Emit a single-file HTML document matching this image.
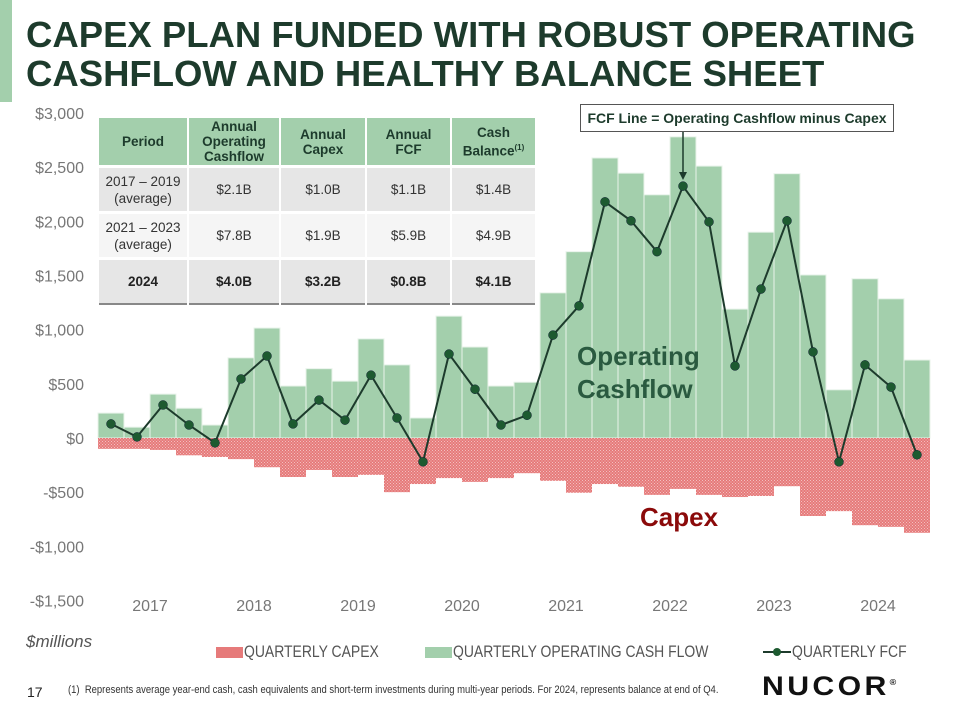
<!DOCTYPE html>
<html><head><meta charset="utf-8">
<style>
body{margin:0;width:960px;height:720px;background:#fff;font-family:"Liberation Sans",sans-serif;overflow:hidden;position:relative}
.title{position:absolute;left:26px;top:15px;font-size:36.5px;font-weight:bold;color:#1d3b2c;line-height:39px}
.accent{position:absolute;left:0;top:0;width:12px;height:102px;background:#a3cfac}
table{position:absolute;left:97px;top:118px;border-collapse:separate;border-spacing:2px 3px;font-size:13.5px;color:#333;margin-top:-3px}
th{background:#a3cfac;color:#1d3b2c;font-weight:bold;height:47px;line-height:15px;padding:0}
td{text-align:center;padding:0;height:43px;line-height:17px}
tr.r1 td,tr.r3 td{background:#e6e6e6}
tr.r2 td{background:#f5f5f5}
tr.r3 td{font-weight:bold;color:#222;border-bottom:2px solid #888}
svg{position:absolute;left:0;top:0}
.lg{position:absolute;top:642px;font-size:17px;color:#555;white-space:nowrap;transform:scaleX(0.82);transform-origin:left}
.sw{position:absolute;top:647px;width:27px;height:11px}
</style></head><body>
<div class="accent"></div>
<div class="title">CAPEX PLAN FUNDED WITH ROBUST OPERATING<br>CASHFLOW AND HEALTHY BALANCE SHEET</div>
<svg id="chart" width="960" height="720">
<defs><pattern id="hatch" width="3" height="3" patternUnits="userSpaceOnUse"><rect width="3" height="3" fill="#e67a7a"/><rect width="1" height="1" fill="#f3c0c0"/><rect x="1.5" y="1.5" width="1" height="1" fill="#f3c0c0"/></pattern></defs>
<g id="bars"></g><g id="line"></g><g id="axes"></g>
</svg>
<table>
<tr><th style="width:88px">Period</th><th style="width:90px">Annual<br>Operating<br>Cashflow</th><th style="width:84px">Annual<br>Capex</th><th style="width:83px">Annual<br>FCF</th><th style="width:83px">Cash<br>Balance<sup style="font-size:8px">(1)</sup></th></tr>
<tr class="r1"><td>2017 – 2019<br>(average)</td><td>$2.1B</td><td>$1.0B</td><td>$1.1B</td><td>$1.4B</td></tr>
<tr class="r2"><td>2021 – 2023<br>(average)</td><td>$7.8B</td><td>$1.9B</td><td>$5.9B</td><td>$4.9B</td></tr>
<tr class="r3"><td>2024</td><td>$4.0B</td><td>$3.2B</td><td>$0.8B</td><td>$4.1B</td></tr>
</table>
<div style="position:absolute;left:580px;top:104px;width:312px;height:26px;border:1px solid #555;background:#fff;font-size:14px;font-weight:bold;color:#1d3b2c;text-align:center;line-height:26px">FCF Line = Operating Cashflow minus Capex</div>
<div style="position:absolute;left:577px;top:340px;font-size:26px;font-weight:bold;color:#2a5a40;line-height:33px">Operating<br>Cashflow</div>
<div style="position:absolute;left:640px;top:502px;font-size:26px;font-weight:bold;color:#8b0a0a">Capex</div>
<div style="position:absolute;left:26px;top:632px;font-size:17px;font-style:italic;color:#555">$millions</div>
<div class="sw" style="left:216px;background:#e67a7a"></div>
<div class="lg" style="left:244px">QUARTERLY CAPEX</div>
<div class="sw" style="left:425px;background:#a3cfac"></div>
<div class="lg" style="left:453px">QUARTERLY OPERATING CASH FLOW</div>
<svg width="28" height="12" style="left:763px;top:646px"><line x1="0" y1="6" x2="28" y2="6" stroke="#1d3b2c" stroke-width="2"/><circle cx="14" cy="6" r="4" fill="#1d5a30"/></svg>
<div class="lg" style="left:792px">QUARTERLY FCF</div>
<div style="position:absolute;left:27px;top:684px;font-size:14px;color:#222">17</div>
<div style="position:absolute;left:68px;top:684px;font-size:11px;color:#333;white-space:nowrap;transform:scaleX(0.86);transform-origin:left">(1)&nbsp; Represents average year-end cash, cash equivalents and short-term investments during multi-year periods. For 2024, represents balance at end of Q4.</div>
<div style="position:absolute;left:762px;top:671px;font-size:27px;font-weight:900;color:#111;letter-spacing:3px;white-space:nowrap;transform:scaleX(1.12);transform-origin:left">NUCOR<sup style="font-size:8px;letter-spacing:0">®</sup></div>
<script>
const years=["2017","2018","2019","2020","2021","2022","2023","2024"];
const ocf=[230,100,405,275,120,740,1015,480,640,525,915,675,185,1125,840,480,515,1340,1720,2585,2445,2245,2780,2510,1190,1900,2440,1505,445,1470,1285,720];
const capex=[-100,-100,-110,-160,-175,-195,-270,-360,-295,-360,-340,-500,-425,-370,-405,-370,-325,-395,-505,-425,-450,-525,-470,-525,-545,-535,-445,-720,-675,-805,-820,-875];
const fcf=[130,10,305,120,-45,545,757,130,350,165,580,185,-220,775,450,120,210,950,1220,2180,2005,1720,2325,1995,665,1375,2005,795,-220,675,470,-155];
const yTicks=[3000,2500,2000,1500,1000,500,0,-500,-1000,-1500];
const NS="http://www.w3.org/2000/svg";
const x0=98,bw=26,yZero=438,k=325/3000;
const X=i=>x0+i*bw, Y=v=>yZero-v*k;
function mk(tag,at,parent){const e=document.createElementNS(NS,tag);for(const a in at)e.setAttribute(a,at[a]);parent.appendChild(e);return e;}
const gb=document.getElementById('bars'),gl=document.getElementById('line'),ga=document.getElementById('axes');
ocf.forEach((v,i)=>{const r=mk('rect',{x:X(i),y:Math.min(Y(v),yZero),width:bw,height:Math.abs(Y(v)-yZero),fill:'#a3cfac',stroke:'#e8f3ea','stroke-width':1},gb);

});
capex.forEach((v,i)=>{const r=mk('rect',{x:X(i),y:yZero,width:bw,height:Math.abs(Y(v)-yZero),fill:'url(#hatch)'},gb);

});
const pts=fcf.map((v,i)=>(X(i)+bw/2)+','+Y(v)).join(' ');
const pl=mk('polyline',{points:pts,fill:'none',stroke:'#1d3b2c','stroke-width':2},gl);


fcf.forEach((v,i)=>{const c=mk('circle',{cx:X(i)+bw/2,cy:Y(v),r:4.5,fill:'#1d5a30',stroke:'#123',"stroke-width":0.5},gl);

});
yTicks.forEach(v=>{const t=mk('text',{x:84,y:Y(v)+6,'text-anchor':'end','font-size':16,fill:'#777','font-family':'Liberation Sans, sans-serif'},ga);t.textContent=(v<0?'-':'')+'$'+Math.abs(v).toLocaleString('en-US');

});
years.forEach((y,j)=>{const t=mk('text',{x:X(j*4+2),y:611,'text-anchor':'middle','font-size':16,fill:'#777','font-family':'Liberation Sans, sans-serif'},ga);t.textContent=y;

});
const ax=X(22)+bw/2;
const ar=mk('line',{x1:ax,y1:131,x2:ax,y2:176,stroke:'#1d3b2c','stroke-width':1.5},ga);


const ah=mk('polygon',{points:(ax-4)+',172 '+(ax+4)+',172 '+ax+',180',fill:'#1d3b2c'},ga);


</script>
</body></html>
